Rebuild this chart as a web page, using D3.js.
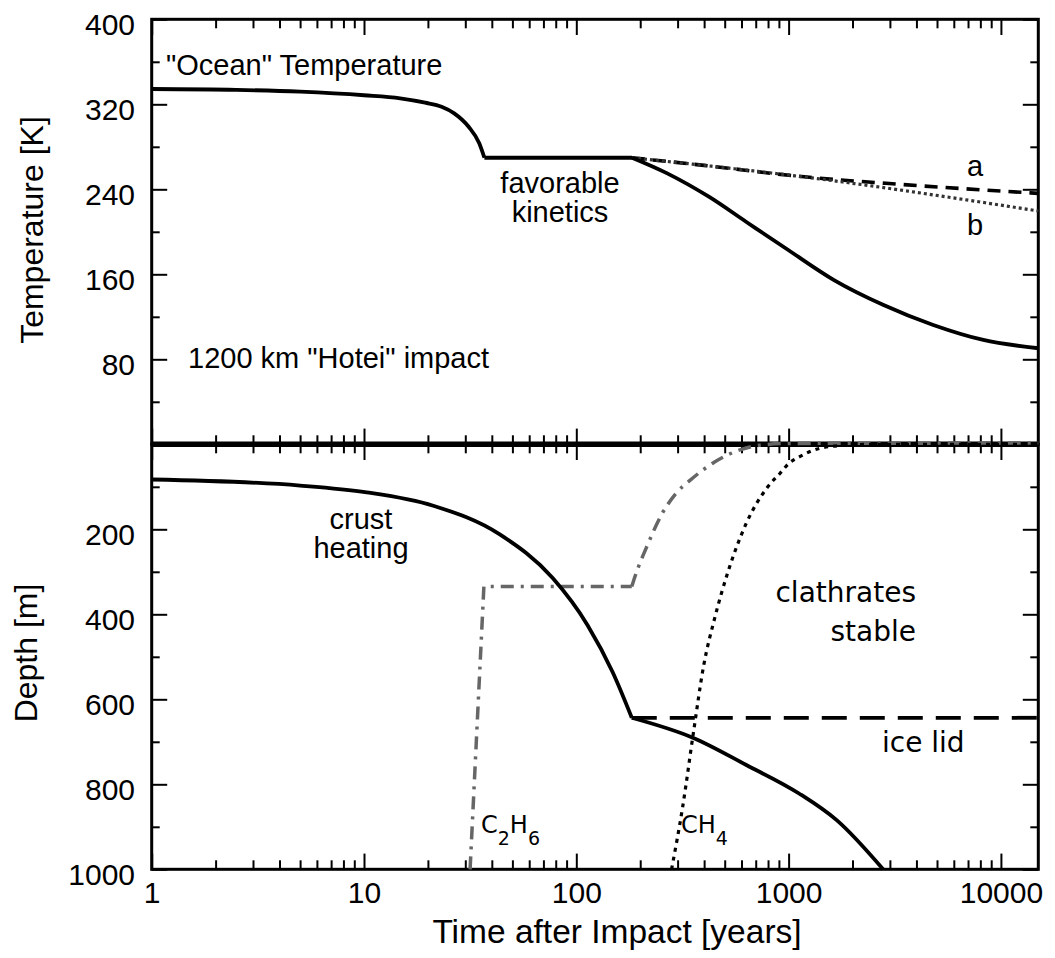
<!DOCTYPE html>
<html>
<head>
<meta charset="utf-8">
<script src="https://d3js.org/d3.v7.min.js"></script>
<style>
  body { margin: 0; background: #fff; }
  .tick line { stroke: #000; stroke-width: 2; }
  .ticklab { font-family: "Liberation Sans", Arial, sans-serif; font-size: 30px; fill: #000; }
  .note { font-family: "Liberation Sans", Arial, sans-serif; font-size: 29px; fill: #000; }
  .note2 { font-family: "DejaVu Sans", sans-serif; font-size: 28px; fill: #000; }
  .title { font-family: "Liberation Sans", Arial, sans-serif; font-size: 32px; fill: #000; }
</style>
</head>
<body>
<div id="my_dataviz"></div>
<script>

// ---- data ----
// top panel: "ocean" temperature [K], solid line in three pieces
var oceanYearsA = [1, 2.5, 5, 10, 14.8, 19.4, 23.2, 26.6, 31.1, 34.9, 36.9];
var oceanTempA  = [334.4, 333.6, 331.9, 328.5, 325.6, 321.5, 317.7, 311.5, 298.9, 283.3, 269.7];
var oceanYearsB = [36.9, 183];
var oceanTempB  = [269.7, 269.7];
var oceanYearsC = [183, 268, 421, 630, 996, 1636, 2800, 4800, 8260, 15000];
var oceanTempC  = [269.7, 255, 233, 209.5, 182.9, 154.6, 131.1, 112.3, 98.2, 90.4];

// scenarios a (dashed) and b (dotted)
var aYears = [183, 400, 1150, 3327, 15000];
var aTemp  = [269.7, 262.5, 252, 244.7, 236.2];
var bYears = [183, 400, 1150, 15000];
var bTemp  = [269.7, 262.5, 251.9, 219.6];

// bottom panel: depth [m]
var crustYearsA = [1, 5, 10.3, 21.2, 43.6, 77.4, 113, 148.4, 182.5];
var crustDepthA = [82.8, 97, 113, 144.5, 212, 314.8, 425.6, 536.5, 643.5];
var crustYearsB = [182.5, 356, 629, 1120, 1690, 2787];
var crustDepthB = [643.5, 691, 754, 821.6, 885, 1000];

var lidYears = [182.5, 15000];
var lidDepth = [643.5, 643.5];

var ethaneYearsA = [31.6, 36.7, 182.5];
var ethaneDepthA = [1000, 334.6, 334.6];
var ethaneYearsB = [182.5, 189, 217, 253, 293, 343, 448, 585, 710, 1000, 15000];
var ethaneDepthB = [334.6, 311, 235.6, 164, 117, 85, 41.6, 13.9, 3, -2, -3];

var methaneYears = [281, 317, 356, 398, 448, 519, 629, 795, 912, 1000, 1128, 1404, 1880, 2500, 15000];
var methaneDepth = [1000, 853, 679, 520.7, 410, 299, 188, 101, 68, 45.6, 29, 9.4, 2, 0, 0];

// ticks
var xMajor = [1, 10, 100, 1000, 10000];
var tempMajor = [80, 160, 240, 320, 400];
var tempMinor = [40, 120, 200, 280, 360];
var depthMajor = [200, 400, 600, 800, 1000];
var depthMinor = [100, 300, 500, 700, 900];

// ---- layout ----
var margin = {top: 19.3, right: 16.7, bottom: 88.7, left: 151.7},
    width = 1055 - margin.left - margin.right,
    panelH = 425;

var svg = d3.select("#my_dataviz")
  .append("svg")
  .attr("width", 1055)
  .attr("height", 958);

var x = d3.scaleLog().domain([1, 15000]).range([0, width]);
var yT = d3.scaleLinear().domain([0, 400]).range([panelH, 0]);
var yD = d3.scaleLinear().domain([0, 1000]).range([0, panelH]);

var xMinor = [];
xMajor.forEach(function(d) {
  for (var k = 2; k < 10; k++) if (d * k < 15000) xMinor.push(d * k);
});

var upper = svg.append("g").attr("transform", "translate(" + margin.left + "," + margin.top + ")");
var lower = svg.append("g").attr("transform", "translate(" + margin.left + "," + (margin.top + panelH) + ")");

// one side of tick marks (major + minor), pointing inward
function ticks(g, axisFn, scale, major, minor, bigLen, smallLen, fmt) {
  var a = g.append("g").call(axisFn(scale).tickValues(major).tickSize(-bigLen)
            .tickPadding(0).tickFormat(fmt || ""));
  a.select(".domain").remove();
  a.attr("font-size", null).attr("font-family", null);
  g.append("g").call(axisFn(scale).tickValues(minor).tickSize(-smallLen).tickFormat(""))
    .select(".domain").remove();
  return a;
}
var lab = function(d) { return d; };

// top panel axes
var tl = ticks(upper, d3.axisLeft, yT, tempMajor, tempMinor, 15.5, 8, lab);
tl.selectAll("text").attr("class", "ticklab").attr("x", -16.7).attr("dy", "0.5em");
ticks(upper.append("g").attr("transform", "translate(" + width + ",0)"), d3.axisRight, yT, tempMajor, tempMinor, 15.5, 8);
ticks(upper, d3.axisTop, x, xMajor, xMinor, 15.7, 9);
ticks(upper.append("g").attr("transform", "translate(0," + panelH + ")"), d3.axisBottom, x, xMajor, xMinor, 15.7, 9);

// bottom panel axes
var bl = ticks(lower, d3.axisLeft, yD, depthMajor, depthMinor, 15.5, 8, lab);
bl.selectAll("text").attr("class", "ticklab").attr("x", -16.7).attr("dy", "0.5em");
ticks(lower.append("g").attr("transform", "translate(" + width + ",0)"), d3.axisRight, yD, depthMajor, depthMinor, 15.5, 8);
ticks(lower, d3.axisTop, x, xMajor, xMinor, 15.7, 9);
var bb = ticks(lower.append("g").attr("transform", "translate(0," + panelH + ")"), d3.axisBottom, x, xMajor, xMinor, 15.7, 9, lab);
bb.selectAll("text").attr("class", "ticklab").attr("y", 12.2);

// frames
[upper, lower].forEach(function(g) {
  g.append("rect").attr("width", width).attr("height", panelH)
    .attr("fill", "none").attr("stroke", "#000").attr("stroke-width", 3);
});
upper.append("line").attr("x1", 0).attr("x2", width).attr("y1", panelH).attr("y2", panelH)
  .attr("stroke", "#000").attr("stroke-width", 5.5);

// ---- curves ----
function pts(xs, ys) { return xs.map(function(v, i) { return [v, ys[i]]; }); }
var lineT = d3.line().x(function(d) { return x(d[0]); }).y(function(d) { return yT(d[1]); }).curve(d3.curveMonotoneX);
var lineD = d3.line().x(function(d) { return x(d[0]); }).y(function(d) { return yD(d[1]); }).curve(d3.curveMonotoneX);
var lineDlin = d3.line().x(function(d) { return x(d[0]); }).y(function(d) { return yD(d[1]); });

function path(g, gen, data, stroke, w, dash) {
  g.append("path").datum(data).attr("d", gen).attr("fill", "none")
    .attr("stroke", stroke).attr("stroke-width", w)
    .attr("stroke-dasharray", dash || null).attr("stroke-linejoin", "round");
}

path(upper, lineT, pts(aYears, aTemp), "#000", 3.6, "13,8");
path(upper, lineT, pts(bYears, bTemp), "#333", 3.2, "3,3");
path(upper, lineT, pts(oceanYearsA, oceanTempA), "#000", 3.8);
path(upper, lineT, pts(oceanYearsB, oceanTempB), "#000", 3.8);
path(upper, lineT, pts(oceanYearsC, oceanTempC), "#000", 3.8);

path(lower, lineDlin, pts(ethaneYearsA, ethaneDepthA), "#666", 3.5, "13,7,3,7");
path(lower, lineD, pts(ethaneYearsB, ethaneDepthB), "#666", 3.5, "13,7,3,7");
path(lower, lineD, pts(methaneYears, methaneDepth), "#000", 3.2, "4,5");
path(lower, lineDlin, pts(lidYears, lidDepth), "#000", 3.8, "25,13");
path(lower, lineD, pts(crustYearsA, crustDepthA), "#000", 3.8);
path(lower, lineD, pts(crustYearsB, crustDepthB), "#000", 3.8);

// ---- titles and notes ----
svg.append("text").attr("class", "title").attr("transform", "translate(43,230) rotate(-90)")
  .attr("text-anchor", "middle").text("Temperature [K]");
svg.append("text").attr("class", "title").attr("transform", "translate(37,653) rotate(-90)")
  .attr("text-anchor", "middle").text("Depth [m]");
svg.append("text").attr("class", "title").attr("x", 617).attr("y", 943)
  .attr("text-anchor", "middle").style("font-size", "33.5px").text("Time after Impact [years]");

function note(cls, xp, yp, anchor, s) {
  svg.append("text").attr("class", cls).attr("x", xp).attr("y", yp)
    .attr("text-anchor", anchor).text(s);
}
note("note", 166, 75, "start", "\"Ocean\" Temperature");
note("note", 188, 368, "start", "1200 km \"Hotei\" impact");
note("note", 560, 193, "middle", "favorable");
note("note", 560, 222, "middle", "kinetics");
note("note", 975, 176, "middle", "a");
note("note", 975, 235, "middle", "b");
note("note", 361, 529, "middle", "crust");
note("note", 361, 558, "middle", "heating");
note("note2", 916, 602, "end", "clathrates");
note("note2", 916, 641, "end", "stable");
note("note2", 882, 752, "start", "ice lid");

function formula(xp, parts) {
  var t = svg.append("text").attr("class", "note2").attr("x", xp).attr("y", 833).style("font-size", "24px");
  parts.forEach(function(p, i) {
    t.append("tspan").attr("dy", i === 0 ? 0 : (p.sub ? 12 : -12))
      .style("font-size", p.sub ? "19px" : "24px").text(p.s);
  });
}
formula(481, [{s: "C"}, {s: "2", sub: true}, {s: "H"}, {s: "6", sub: true}]);
formula(681, [{s: "CH"}, {s: "4", sub: true}]);

</script>
</body>
</html>
